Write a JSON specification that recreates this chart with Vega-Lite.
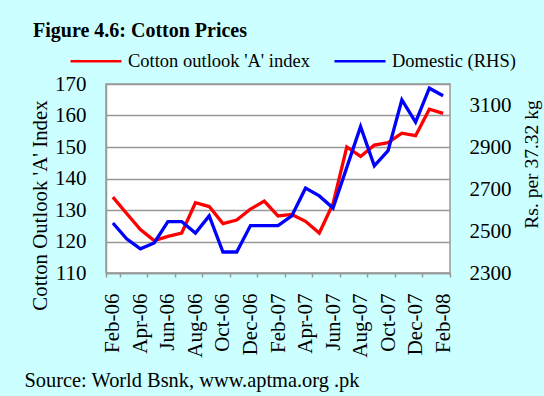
{
  "$schema": "https://vega.github.io/schema/vega-lite/v6.json",
  "width": 344,
  "height": 189,
  "autosize": {"type": "none"},
  "padding": {"left": 106, "top": 84, "right": 94, "bottom": 123},
  "background": "#ccffff",
  "config": {
    "font": "Liberation Serif",
    "view": {"fill": "white", "stroke": "#999999", "strokeWidth": 1.5},
    "axis": {"labelColor": "black", "titleColor": "black", "labelFont": "Liberation Serif", "titleFont": "Liberation Serif"},
    "legend": {"labelFont": "Liberation Serif", "labelColor": "black"}
  },
  "title": {
    "text": "Figure 4.6: Cotton Prices",
    "anchor": "start",
    "frame": "group",
    "font": "Liberation Serif",
    "fontSize": 20,
    "fontWeight": "bold",
    "color": "black",
    "dx": -73,
    "dy": 11
  },
  "data": {
    "values": [
      {"month": "Feb-06", "aIndex": 134.1, "domestic": 2538},
      {"month": "Mar-06", "aIndex": 128.9, "domestic": 2463},
      {"month": "Apr-06", "aIndex": 123.8, "domestic": 2415},
      {"month": "May-06", "aIndex": 120.3, "domestic": 2443},
      {"month": "Jun-06", "aIndex": 121.6, "domestic": 2545},
      {"month": "Jul-06", "aIndex": 122.7, "domestic": 2545},
      {"month": "Aug-06", "aIndex": 132.3, "domestic": 2490},
      {"month": "Sep-06", "aIndex": 131.1, "domestic": 2572},
      {"month": "Oct-06", "aIndex": 125.7, "domestic": 2400},
      {"month": "Nov-06", "aIndex": 126.8, "domestic": 2400},
      {"month": "Dec-06", "aIndex": 130.3, "domestic": 2526},
      {"month": "Jan-07", "aIndex": 132.8, "domestic": 2526},
      {"month": "Feb-07", "aIndex": 128.1, "domestic": 2526},
      {"month": "Mar-07", "aIndex": 128.6, "domestic": 2572},
      {"month": "Apr-07", "aIndex": 126.4, "domestic": 2704},
      {"month": "May-07", "aIndex": 122.7, "domestic": 2667},
      {"month": "Jun-07", "aIndex": 132.0, "domestic": 2609},
      {"month": "Jul-07", "aIndex": 150.0, "domestic": 2803},
      {"month": "Aug-07", "aIndex": 147.0, "domestic": 2997},
      {"month": "Sep-07", "aIndex": 150.6, "domestic": 2810},
      {"month": "Oct-07", "aIndex": 151.4, "domestic": 2883},
      {"month": "Nov-07", "aIndex": 154.4, "domestic": 3124},
      {"month": "Dec-07", "aIndex": 153.6, "domestic": 3018},
      {"month": "Jan-08", "aIndex": 162.0, "domestic": 3180},
      {"month": "Feb-08", "aIndex": 160.7, "domestic": 3144}
    ]
  },
  "encoding": {
    "x": {
      "field": "month",
      "type": "ordinal",
      "sort": null,
      "scale": {"type": "band", "paddingInner": 0, "paddingOuter": 0},
      "axis": {
        "values": ["Feb-06", "Apr-06", "Jun-06", "Aug-06", "Oct-06", "Dec-06", "Feb-07", "Apr-07", "Jun-07", "Aug-07", "Oct-07", "Dec-07", "Feb-08"],
        "labelAngle": 270,
        "labelFont": "Liberation Serif",
        "labelFontSize": 21,
        "labelPadding": 16,
        "tickBand": "extent",
        "tickSize": 4,
        "tickColor": "#999999",
        "tickWidth": 1.5,
        "domainColor": "#999999",
        "domainWidth": 1.5,
        "grid": false,
        "title": "Source: World Bsnk, www.aptma.org .pk",
        "titleFont": "Liberation Serif",
        "titleFontSize": 20.4,
        "titleFontWeight": "normal",
        "titleAnchor": "start",
        "titleAlign": "left",
        "titleBaseline": "alphabetic",
        "titleX": -82,
        "titleY": 113
      }
    }
  },
  "layer": [
    {
      "mark": {"type": "line", "strokeWidth": 3.3},
      "encoding": {
        "y": {
          "field": "aIndex",
          "type": "quantitative",
          "scale": {"domain": [110, 170], "nice": false, "zero": false},
          "axis": {
            "values": [110, 120, 130, 140, 150, 160, 170],
            "format": "d",
            "labelFont": "Liberation Serif",
            "labelFontSize": 21,
            "ticks": false,
            "labelPadding": 20,
            "domain": true,
            "domainColor": "#999999",
            "domainWidth": 1.5,
            "grid": true,
            "gridColor": "#999999",
            "gridWidth": 1.5,
            "title": "Cotton Outlook 'A' Index",
            "titleFont": "Liberation Serif",
            "titleFontSize": 20.8,
            "titleFontWeight": "normal",
            "titleAngle": 270,
            "titleAlign": "center",
            "titleBaseline": "alphabetic",
            "titleX": -60,
            "titleY": 121
          }
        },
        "color": {
          "datum": "Cotton outlook 'A' index",
          "type": "nominal",
          "scale": {"domain": ["Cotton outlook 'A' index", "Domestic (RHS)"], "range": ["#ff0000", "#0000ff"]},
          "legend": {
            "title": null,
            "orient": "none",
            "direction": "horizontal",
            "legendX": -37,
            "legendY": -50,
            "symbolType": "stroke",
            "symbolSize": 2601,
            "symbolStrokeWidth": 2.5,
            "labelFont": "Liberation Serif",
            "labelFontSize": 18.5,
            "labelLimit": 0,
            "labelOffset": 5,
            "columnPadding": 19
          }
        }
      }
    },
    {
      "mark": {"type": "line", "strokeWidth": 3.3},
      "encoding": {
        "y": {
          "field": "domestic",
          "type": "quantitative",
          "scale": {"domain": [2300, 3200], "nice": false, "zero": false},
          "axis": {
            "orient": "right",
            "values": [2300, 2500, 2700, 2900, 3100],
            "format": "d",
            "labelFont": "Liberation Serif",
            "labelFontSize": 21,
            "ticks": false,
            "labelPadding": 19,
            "domain": false,
            "grid": false,
            "title": "Rs. per 37.32 kg",
            "titleFont": "Liberation Serif",
            "titleFontSize": 19.5,
            "titleFontWeight": "normal",
            "titleAngle": 270,
            "titleAlign": "center",
            "titleBaseline": "alphabetic",
            "titleX": 87,
            "titleY": 80
          }
        },
        "color": {"datum": "Domestic (RHS)", "type": "nominal"}
      }
    }
  ],
  "resolve": {"scale": {"y": "independent"}}
}
